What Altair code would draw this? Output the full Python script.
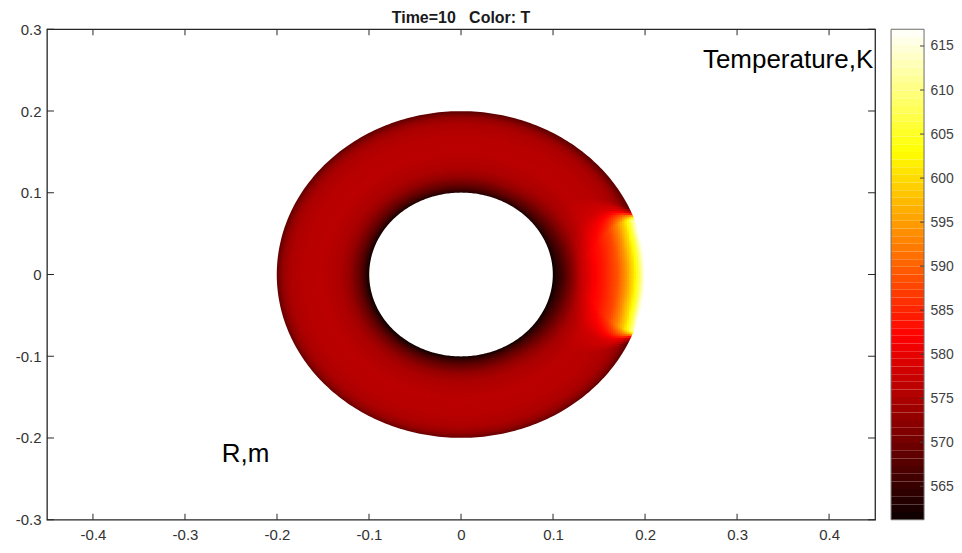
import numpy as np
import pandas as pd
import altair as alt

# ---------------- values ----------------
x_ticks = [-0.4, -0.3, -0.2, -0.1, 0, 0.1, 0.2, 0.3, 0.4]
y_ticks = [-0.3, -0.2, -0.1, 0, 0.1, 0.2, 0.3]
cb_ticks = [565, 570, 575, 580, 585, 590, 595, 600, 605, 610, 615]
x_domain = [-0.45, 0.45]
y_domain = [-0.3, 0.3]
T_range = [561.2, 616.9]

r_inner = 0.1
r_outer = 0.2

# temperature across the ring wall (fraction of wall thickness from the inner edge)
wall_frac = [0.0, 0.04, 0.1, 0.2, 0.3, 0.5, 0.7, 0.85, 0.93, 1.0]
wall_T = [562.0, 565.5, 569.0, 573.0, 575.0, 576.2, 576.0, 575.0, 573.0, 568.5]

# extra cooling of the inner wall facing the heated window (right side)
cool_frac = [0.0, 0.1, 0.2, 0.3, 0.45]
cool_drop = [1.5, 3.5, 3.5, 1.5, 0.0]
cool_angle = [0, 30, 60]
cool_weight = [1.0, 0.5, 0.0]

# heated window on the outer wall (right side): rise vs depth from the outer wall
hot_depth = [0.0, 0.006, 0.012, 0.02, 0.03, 0.045, 0.06, 0.075, 0.09]
hot_rise = [48.0, 34.5, 26.0, 19.0, 12.5, 8.0, 5.0, 2.5, 0.0]
# half-height of the heated zone vs depth from the outer wall
zone_depth = [0.0, 0.01, 0.02, 0.03, 0.045, 0.06, 0.075, 0.09]
zone_half = [0.072, 0.072, 0.07, 0.066, 0.056, 0.042, 0.022, 0.0]
# fall-off beyond the zone's edge (in units of a depth-dependent blur width)
edge_u = [-4.0, -1.0, 0.0, 1.0, 2.5]
edge_weight = [1.0, 0.92, 0.6, 0.2, 0.0]

title_text = "Time=10\u00a0\u00a0\u00a0Color: T"
label_temp = "Temperature,K"
label_r = "R,m"
label_temp_xy = [0.448, 0.253]
label_r_xy = [-0.26, -0.229]

# ---------------- field table built from the readings ----------------
step = 0.0025
g = np.arange(-r_outer - 0.004 + step / 2, r_outer + 0.004, step)
GX, GY = np.meshgrid(g, g)
R = np.hypot(GX, GY)
mask = (R >= r_inner - 0.002) & (R <= r_outer + 0.002)
gx, gy, rr = GX[mask], GY[mask], R[mask]
s = (rr - r_inner) / (r_outer - r_inner)
T = np.interp(s, wall_frac, wall_T)
theta = np.degrees(np.abs(np.arctan2(gy, gx)))
T = T - np.interp(s, cool_frac, cool_drop) * np.interp(theta, cool_angle, cool_weight)
depth = np.clip(r_outer - rr, 0, None)
yw = np.interp(depth, zone_depth, zone_half)
u = (np.abs(gy) - yw) / (0.004 + 0.25 * depth)
hot = np.interp(depth, hot_depth, hot_rise) * np.interp(u, edge_u, edge_weight)
T = T + np.where(gx > 0, hot, 0.0)
T = np.clip(T, T_range[0], T_range[1])
field = pd.DataFrame({"x": np.round(gx, 5), "y": np.round(gy, 5), "T": np.round(T, 2)})

# smooth white masks just outside the ring's edges (hide the cell steps)
ang = np.linspace(0, 2 * np.pi, 361)
mask_out = pd.DataFrame({"x": (r_outer + 0.0035) * np.cos(ang), "y": (r_outer + 0.0035) * np.sin(ang), "o": np.arange(361)})
mask_in = pd.DataFrame({"x": (r_inner - 0.0035) * np.cos(ang), "y": (r_inner - 0.0035) * np.sin(ang), "o": np.arange(361)})

# colorbar bands (64-level colormap like MATLAB)
edges = np.linspace(T_range[0], T_range[1], 65)
cbar_df = pd.DataFrame({"lo": edges[:-1], "hi": edges[1:], "mid": (edges[:-1] + edges[1:]) / 2})

# ---------------- styling ----------------
W, H = 829, 491
FRAME = "#262626"
FONT = "Liberation Sans"

hot_scale = alt.Scale(
    domain=[T_range[0], T_range[0] + 0.375 * (T_range[1] - T_range[0]),
            T_range[0] + 0.75 * (T_range[1] - T_range[0]), T_range[1]],
    range=["#0b0000", "#ff0000", "#ffff00", "#ffffff"],
    interpolate="rgb",
)
xscale = alt.Scale(domain=x_domain, nice=False, zero=False)
yscale = alt.Scale(domain=y_domain, nice=False, zero=False)
cscale_y = alt.Scale(domain=T_range, nice=False, zero=False)

lbl = "'' + round(datum.value*10)/10"
xaxis = alt.Axis(values=x_ticks, labelExpr=lbl, title=None, orient="bottom", labelPadding=8)
yaxis = alt.Axis(values=y_ticks, labelExpr=lbl, title=None, orient="left", labelPadding=6)
caxis = alt.Axis(orient="right", offset=49, values=cb_ticks, title=None,
                 labelPadding=6, labelColor="#404040", labelFontSize=14)

half = 0.0021
ring = alt.Chart(field).transform_calculate(
    x0=f"datum.x - {half}", x1=f"datum.x + {half}",
    y0=f"datum.y - {half}", y1=f"datum.y + {half}",
).mark_rect().encode(
    x=alt.X("x0:Q", scale=xscale, axis=xaxis),
    x2="x1:Q",
    y=alt.Y("y0:Q", scale=yscale, axis=yaxis),
    y2="y1:Q",
    color=alt.Color("T:Q", scale=hot_scale, legend=None),
)


def white_mask(df):
    return alt.Chart(df).mark_line(color="white", strokeWidth=6).encode(
        x=alt.X("x:Q", scale=xscale, axis=xaxis),
        y=alt.Y("y:Q", scale=yscale, axis=yaxis),
        order="o:Q",
    )


xt = pd.DataFrame({"v": x_ticks})
yt = pd.DataFrame({"v": y_ticks})
top_ticks = alt.Chart(xt).mark_rule(color=FRAME).encode(
    x=alt.X("v:Q", scale=xscale, axis=xaxis), y=alt.value(0), y2=alt.value(6))
bot_ticks = alt.Chart(xt).mark_rule(color=FRAME).encode(
    x=alt.X("v:Q", scale=xscale, axis=xaxis), y=alt.value(H), y2=alt.value(H - 6))
left_ticks = alt.Chart(yt).mark_rule(color=FRAME).encode(
    y=alt.Y("v:Q", scale=yscale, axis=yaxis), x=alt.value(0), x2=alt.value(7))
right_ticks = alt.Chart(yt).mark_rule(color=FRAME).encode(
    y=alt.Y("v:Q", scale=yscale, axis=yaxis), x=alt.value(W), x2=alt.value(W - 7))

t1 = alt.Chart(pd.DataFrame({"x": [label_temp_xy[0]], "y": [label_temp_xy[1]], "t": [label_temp]})).mark_text(
    align="right", baseline="alphabetic", font=FONT, fontSize=26, color="#000000"
).encode(x=alt.X("x:Q", scale=xscale, axis=xaxis), y=alt.Y("y:Q", scale=yscale, axis=yaxis), text="t:N")
t2 = alt.Chart(pd.DataFrame({"x": [label_r_xy[0]], "y": [label_r_xy[1]], "t": [label_r]})).mark_text(
    align="left", baseline="alphabetic", font=FONT, fontSize=26, color="#000000"
).encode(x=alt.X("x:Q", scale=xscale, axis=xaxis), y=alt.Y("y:Q", scale=yscale, axis=yaxis), text="t:N")

main = alt.layer(ring, white_mask(mask_out), white_mask(mask_in),
                 top_ticks, bot_ticks, left_ticks, right_ticks, t1, t2)

cb_rect = alt.Chart(cbar_df).mark_rect().encode(
    x=alt.value(W + 16), x2=alt.value(W + 49),
    y=alt.Y("lo:Q", scale=cscale_y, axis=caxis),
    y2="hi:Q",
    color=alt.Color("mid:Q", scale=hot_scale, legend=None),
)
cb_box = alt.Chart(alt.Data(values=[{"a": 1}])).mark_rect(
    filled=False, stroke="#6b6b6b", strokeWidth=1
).encode(x=alt.value(W + 16), x2=alt.value(W + 49), y=alt.value(0), y2=alt.value(H))
cb_tick_marks = alt.Chart(pd.DataFrame({"v": cb_ticks})).mark_rule(color="#404040").encode(
    y=alt.Y("v:Q", scale=cscale_y, axis=caxis), x=alt.value(W + 45), x2=alt.value(W + 49))

cbar = alt.layer(cb_rect, cb_box, cb_tick_marks)

chart = alt.layer(main, cbar).resolve_scale(y="independent").properties(
    width=W, height=H,
    padding={"left": 7, "top": 2, "right": 0, "bottom": 0},
    title=alt.TitleParams(title_text, font=FONT, fontSize=16, fontWeight="bold",
                          anchor="middle", frame="group", offset=-4, color="#1a1a1a"),
).configure_view(stroke=FRAME, strokeWidth=1.3).configure_axis(
    labelFont=FONT, labelFontSize=15, labelColor="#333333", grid=False, domain=False, ticks=False
)

chart.save("out.html", embed_options={"renderer": "svg", "actions": False})
